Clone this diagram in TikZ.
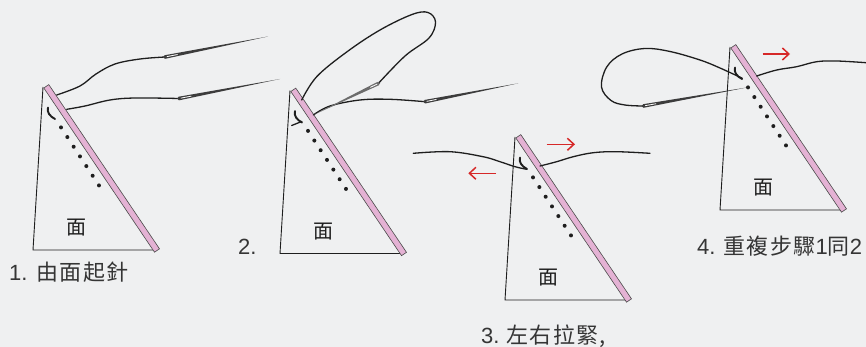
\documentclass[tikz,border=0pt]{standalone}
\usepackage{fontspec}
\newfontfamily\cjk{Noto Sans CJK TC}
\newfontfamily\cjksp[LetterSpace=6]{Noto Sans CJK TC}
\newfontfamily\lat{Liberation Sans}
\usetikzlibrary{calc,arrows.meta}
\definecolor{paper}{RGB}{239,240,241}
\definecolor{stripcol}{RGB}{228,178,212}
\definecolor{arrowred}{RGB}{214,40,40}
\definecolor{ink}{RGB}{30,30,30}
\definecolor{needlecol}{RGB}{60,60,60}
\tikzset{
  edge/.style={draw=ink, line width=0.9pt},
  thread/.style={draw=ink, line width=1.3pt, line cap=round},
  pullarrow/.style={draw=arrowred, line width=1.5pt, -{Straight Barb[length=6.5pt,width=12pt]}},
  facelabel/.style={font=\cjk\fontsize{20}{20}\selectfont, text=ink},
  steplabel/.style={font=\cjksp\fontsize{22}{22}\selectfont, text=ink!90, anchor=west, inner sep=0pt},
  panelbase/.pic={
    \coordinate (-tl) at (10,-163);
    \coordinate (-bl) at (0,0);
    \coordinate (-br) at (123,0);
    \draw[edge] (-tl) -- (-bl) -- (-br);
    \coordinate (-st) at (13.3,-163.7);
    \coordinate (-sb) at (124,0.5);
    \draw[fill=stripcol, draw=ink!80, line width=0.6pt]
      ($(-st)!3pt!90:(-sb)$) -- ($(-sb)!3pt!-90:(-st)$) -- ($(-sb)!3pt!90:(-st)$) -- ($(-st)!3pt!-90:(-sb)$) -- cycle;
    \foreach \i in {0,...,6} \fill[ink] (28+6.33*\i, -122.6+9.67*\i) circle (2pt);
    \draw[thread, line width=1.9pt] (15,-142.5) .. controls (13.5,-138) and (17,-133.5) .. (22,-131);
    \node[facelabel] (-face) at (43,-22) {面};
  }
}
\newcommand\drawneedle[3][needlecol]{%
  \fill[#1] ($#2!1.8pt!90:#3$) -- ($#2!1.8pt!-90:#3$) -- #3 -- cycle;
  \fill[#1] #2 circle (1.8pt);
  \draw[white, line width=0.8pt, line cap=round] ($#2!0.02!#3$) -- ($#2!0.12!#3$);
}
\begin{document}
\begin{tikzpicture}[x=1pt,y=-1pt]
\fill[paper] (0,0) rectangle (866,347);
\useasboundingbox (0,0) rectangle (866,347);

% panel bases
\pic (p1) at (33,250) {panelbase};
\pic (p2) at (280,253.5) {panelbase};
\pic (p3) at (505,300) {panelbase};
\pic (p4) at (720,210) {panelbase};

% ---- panel 1 ----
\coordinate (n1e) at (165,57);
\coordinate (n1t) at (268,36.5);
\coordinate (n2e) at (179,98.5);
\coordinate (n2t) at (280,79);
\draw[thread] plot[smooth, tension=0.6] coordinates {(56.7,95) (80,86) (96,74) (115,64) (140,59) (165,57)};
\draw[thread] plot[smooth, tension=0.6] coordinates {(66.7,109.3) (85,106) (110,100) (135,98) (179,98.5)};
\drawneedle{(n1e)}{(n1t)}
\drawneedle{(n2e)}{(n2t)}

% ---- panel 2 ----
\coordinate (n3e) at (378.3,83.5);
\coordinate (n3t) at (313.3,115);
\coordinate (n4e) at (425,101.7);
\coordinate (n4t) at (518.3,83.3);
\draw[thread] plot[smooth, tension=0.6] coordinates {(301.7,100) (316.7,76.7) (346.7,52) (380,30) (412,14.5) (428,12.5) (435.5,22) (429,38) (405,56) (378.3,83.5)};
\draw[thread] plot[smooth, tension=0.6] coordinates {(313.3,115) (330,106) (360,100) (390,99.3) (425,101.7)};
\drawneedle[gray!85!black]{(n3e)}{(n3t)}
\drawneedle{(n4e)}{(n4t)}
\draw[thread] (291.7,125.5) -- (301.7,121.5);

% ---- panel 3 ----
\draw[thread] plot[smooth, tension=0.6] coordinates {(413.3,153.3) (450,151.7) (483,156.7) (500,161.7) (515,166.7) (526.7,169.3)};
\draw[thread] plot[smooth, tension=0.6] coordinates {(540,166) (556.7,161.7) (573.3,156.7) (593.3,152.7) (616.7,151.7) (650,153.3)};
\coordinate (a1s) at (496,173.3);
\coordinate (a1e) at (468.3,173.3);
\coordinate (a2s) at (546.7,144.3);
\coordinate (a2e) at (575,144.3);
\draw[pullarrow] (a1s) -- (a1e);
\draw[pullarrow] (a2s) -- (a2e);

% ---- panel 4 ----
\coordinate (n5e) at (643.3,106);
\coordinate (n5t) at (748,87.3);
\draw[thread] plot[smooth, tension=0.6] coordinates {(742.3,78.3) (720,68) (700,60) (670,51.5) (645,48.5) (622,54) (606.7,67) (601.5,87) (611,100.5) (625,105) (643.3,106)};
\draw[thread] plot[smooth, tension=0.6] coordinates {(756.7,76) (776.7,70) (796.7,66.7) (816.7,61.7) (836.7,61) (866,62.7)};
\drawneedle{(n5e)}{(n5t)}
\coordinate (a3s) at (762.7,54);
\coordinate (a3e) at (790,54);
\draw[pullarrow] (a3s) -- (a3e);

% labels
\node[steplabel] (l1) at (9,272) {{\lat 1.}\hspace{9pt}由面起針};
\node[steplabel] (l2) at (238,247) {{\lat 2.}};
\node[steplabel] (l3) at (481,336) {{\lat 3.}\hspace{7pt}左右拉緊,};
\node[steplabel] (l4) at (697,246) {{\lat 4.}\hspace{8pt}重複步驟{\lat 1}同{\lat 2}};
\end{tikzpicture}
\end{document}
